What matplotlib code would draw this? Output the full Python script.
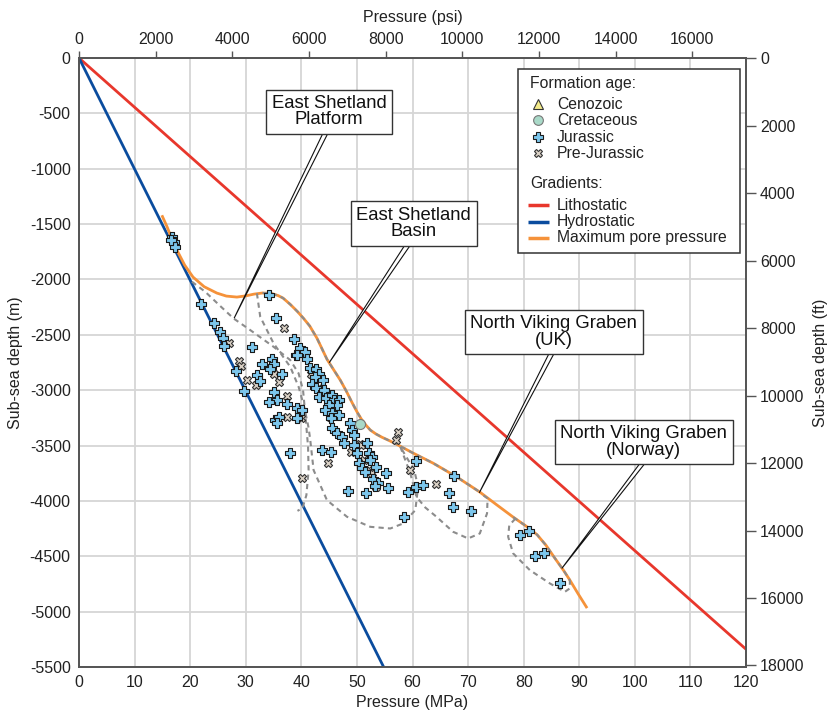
import matplotlib
matplotlib.use("Agg")
import matplotlib.pyplot as plt
import numpy as np
from matplotlib.patches import Rectangle, Polygon

plt.rcParams['font.family'] = ['Liberation Sans', 'DejaVu Sans']

# gradient lines (pressure MPa, depth m)
litho_p = [0, 120]
litho_d = [0, -5340]
hydro_p = [0, 54.8]
hydro_d = [0, -5500]

# maximum pore pressure curve
maxpp_p = [14.9, 15.8, 16.6, 17.6, 19.0, 20.5, 22.5, 24.8, 26.5, 28.4, 30.0, 31.5,
           33.0, 34.5, 35.8, 36.7, 38.0, 39.3, 40.4, 41.5, 42.8, 43.7, 44.6, 45.8,
           47.0, 48.1, 49.1, 50.0, 50.8, 51.6, 52.4, 53.4, 54.5, 55.8, 57.2, 60.1,
           63.7, 68.0, 72.1, 75.0, 78.1, 80.5, 82.4, 84.0, 85.5, 87.2, 88.3, 89.8, 91.4]
maxpp_d = [-1420, -1520, -1620, -1734, -1870, -1978, -2065, -2123, -2150, -2159, -2148, -2132,
           -2122, -2125, -2145, -2168, -2225, -2290, -2352, -2420, -2530, -2625, -2720, -2815,
           -2909, -3010, -3110, -3195, -3262, -3315, -3360, -3395, -3425, -3455, -3490, -3568,
           -3659, -3785, -3920, -4030, -4146, -4230, -4305, -4400, -4510, -4630, -4715, -4840, -4968]

# dashed outlines of the field groups
platform_p = [20.3, 22.7, 25.3, 27.8, 30.8, 35.0, 38.0, 39.5, 40.3, 40.8, 41.2, 41.3, 40.9, 40.2, 39.3]
platform_d = [-2020, -2111, -2235, -2352, -2457, -2608, -2728, -2848, -3000, -3270, -3511, -3722, -3948, -4065, -4090]

basin_p = [32.0, 32.6, 35.0, 38.0, 39.5, 40.5, 41.3, 41.6, 42.2, 44.6, 48.2, 52.4, 56.0, 58.3, 60.5, 61.0, 60.3, 57.8]
basin_d = [-2125, -2337, -2577, -2789, -2969, -3150, -3340, -3451, -3722, -3993, -4143, -4234, -4249, -4204, -4083, -3873, -3722, -3511]

uk_p = [57.8, 59.6, 60.7, 62.3, 64.3, 67.3, 70.0, 72.1, 73.4, 73.5, 72.7]
uk_d = [-3511, -3752, -3963, -4060, -4143, -4279, -4339, -4294, -4113, -3977, -3948]

norway_p = [78.5, 77.4, 77.2, 78.1, 81.1, 84.7, 87.4, 88.3, 88.3]
norway_d = [-4160, -4220, -4324, -4474, -4625, -4745, -4821, -4790, -4715]

# wells by formation age (pressure MPa, depth m)
jurassic_p = [16.7, 17.0, 17.3, 16.5, 21.95, 34.2, 35.4, 24.3, 25.4, 25.9, 26.1, 38.6, 39.0,
              31.2, 28.2, 32.9, 34.7, 35.1, 34.4, 36.6, 32.0, 32.6, 29.7, 35.1, 35.6, 34.1,
              37.5, 35.3, 36.0, 35.6, 39.3, 39.3, 39.8, 40.7, 39.2, 41.1, 41.6, 42.6, 43.2,
              42.5, 43.8, 42.0, 42.6, 44.0, 43.1, 44.4, 45.5, 45.8, 46.8, 46.4, 44.9, 44.3,
              45.5, 46.7, 45.3, 40.1, 48.8, 49.1, 49.4, 45.5, 46.4, 47.3, 51.8, 49.4, 47.6,
              43.7, 45.3, 50.0, 52.1, 52.7, 52.4, 50.3, 50.9, 51.5, 53.4, 55.2, 52.8, 53.8,
              55.5, 53.3, 48.3, 51.6, 59.1, 60.6, 61.9, 60.6, 58.4, 38.0, 67.5, 66.5, 67.2,
              70.5, 79.3, 81.0, 82.0, 83.7, 86.5]
jurassic_d = [-1614, -1659, -1705, -1640, -2222, -2138, -2352, -2397, -2472, -2532, -2602, -2541, -2683,
              -2614, -2825, -2767, -2722, -2767, -2812, -2857, -2864, -2918, -3008, -3014, -3089, -3105,
              -3126, -3270, -3246, -3300, -3159, -3255, -2623, -2653, -2683, -2722, -2803, -2812, -2855,
              -2884, -2909, -2945, -2984, -2999, -3059, -3074, -3044, -3089, -3089, -3135, -3135, -3180,
              -3204, -3225, -3255, -3180, -3294, -3360, -3405, -3345, -3390, -3421, -3481, -3496, -3481,
              -3541, -3562, -3571, -3571, -3607, -3631, -3661, -3706, -3737, -3697, -3746, -3806, -3842,
              -3887, -3866, -3908, -3932, -3917, -3872, -3857, -3638, -4149, -3568, -3776, -3932, -4059,
              -4089, -4309, -4270, -4499, -4469, -4745]

prejur_p = [36.9, 27.0, 28.8, 29.1, 31.8, 35.1, 36.0, 30.2, 37.4, 37.5, 41.7, 43.2, 45.2, 39.9,
            50.6, 57.3, 57.0, 50.7, 48.9, 51.2, 52.1, 52.7, 53.4, 59.6, 44.8, 40.2, 64.2]
prejur_d = [-2442, -2578, -2735, -2780, -2954, -2857, -2924, -2909, -3051, -3240, -2857, -2984, -3240, -3255,
            -3487, -3375, -3451, -3496, -3562, -3631, -3722, -3752, -3872, -3722, -3661, -3797, -3848]

cret_p = [50.6]
cret_d = [-3306]

labels = ['East Shetland\nPlatform', 'East Shetland\nBasin', 'North Viking Graben\n(UK)',
          'North Viking Graben\n(Norway)']
label_xy = [(45.0, -485), (60.2, -1493), (85.4, -2475), (101.6, -3469)]
leader_base = [(43.9, 44.8, -677), (58.7, 59.7, -1683), (84.5, 85.4, -2674), (100.8, 101.7, -3668)]
leader_tip = [(27.9, -2350), (45.0, -2752), (72.0, -3927), (86.85, -4610)]

RED = '#e8372c'
BLUE = '#0a4c9e'
ORANGE = '#f5923a'
GRID = '#d6d6d6'
DASH = '#8c8c8c'
TXT = '#222222'

fig = plt.figure(figsize=(8.32, 7.12), dpi=100)
ax = fig.add_axes([0.0950, 0.0632, 0.8017, 0.8553])
ax.set_xlim(0, 120)
ax.set_ylim(-5500, 0)

xt = np.arange(0, 121, 10)
yt = np.arange(-5500, 1, 500)
ax.set_xticks(xt, labels=[str(v) for v in xt])
ax.set_yticks(yt, labels=[str(v) for v in yt])
ax.tick_params(length=0, pad=6, labelsize=11.5, labelcolor=TXT)
ax.grid(True, color=GRID, lw=1.3)
ax.set_axisbelow(True)
for s in ax.spines.values():
    s.set_color('#555555')
    s.set_linewidth(1.1)

ax.set_xlabel('Pressure (MPa)', fontsize=11.5, color=TXT, labelpad=3)
ax.set_ylabel('Sub-sea depth (m)', fontsize=11.5, color=TXT, labelpad=5)

# gradients
ax.plot(litho_p, litho_d, color=RED, lw=2.0, zorder=3)
ax.plot(hydro_p, hydro_d, color=BLUE, lw=2.0, zorder=3)
ax.plot(maxpp_p, maxpp_d, color=ORANGE, lw=2.0, zorder=3, solid_capstyle='butt')

# dashed outlines, partly running along the pore pressure curve
mp = np.array(maxpp_p)
md = np.array(maxpp_d)
dash_kw = dict(color=DASH, lw=1.5, ls=(0, (2.5, 2)), zorder=4)
on1 = (mp >= 32.0) & (mp <= 72.7)
on2 = (mp >= 78.1) & (mp <= 88.3)
ax.plot(mp[on1], md[on1], **dash_kw)
ax.plot(mp[on2], md[on2], **dash_kw)
ax.plot(platform_p, platform_d, **dash_kw)
ax.plot(basin_p, basin_d, **dash_kw)
ax.plot(uk_p, uk_d, **dash_kw)
ax.plot(norway_p, norway_d, **dash_kw)

# wells
ax.scatter(prejur_p, prejur_d, marker='X', s=34, c='#d9d0c4', edgecolors='#333333', linewidths=0.8, zorder=5)
ax.scatter(jurassic_p, jurassic_d, marker='P', s=52, c='#7cc6ec', edgecolors='#1a1a1a', linewidths=0.8, zorder=6)
ax.scatter(cret_p, cret_d, marker='o', s=52, c='#a9d9c8', edgecolors='#777777', linewidths=0.8, zorder=6)

# callouts
for text, (tx, ty), (bx0, bx1, by), (px, py) in zip(labels, label_xy, leader_base, leader_tip):
    ax.add_patch(Polygon([(bx0, by), (bx1, by), (px, py)], closed=True, facecolor='white',
                         edgecolor='#111111', lw=0.8, zorder=7))
    ax.text(tx, ty, text, ha='center', va='center', fontsize=13.3, color='#111111', linespacing=0.95,
            zorder=8, bbox=dict(boxstyle='square,pad=0.3', fc='white', ec='#333333', lw=1.0))

# legend
ta = ax.transAxes
ax.add_patch(Rectangle((0.6586, 0.6793), 0.3324, 0.302, transform=ta, fc='white', ec='#333333', lw=1.1, zorder=9))
fs = 11.3
ax.text(0.676, 0.9584, 'Formation age:', transform=ta, fontsize=fs, va='center', color=TXT, zorder=10)
ax.text(0.676, 0.7943, 'Gradients:', transform=ta, fontsize=fs, va='center', color=TXT, zorder=10)
rows = [(0.9245, 'Cenozoic', dict(marker='^', ms=7, mfc='#f3ea8a', mec='#333333')),
        (0.8975, 'Cretaceous', dict(marker='o', ms=7, mfc='#a9d9c8', mec='#777777')),
        (0.8703, 'Jurassic', dict(marker='P', ms=7, mfc='#7cc6ec', mec='#1a1a1a')),
        (0.8440, 'Pre-Jurassic', dict(marker='X', ms=6, mfc='#d9d0c4', mec='#333333'))]
for yy, name, mk in rows:
    ax.plot([0.6886], [yy], transform=ta, ls='none', mew=0.8, zorder=10, clip_on=False, **mk)
    ax.text(0.7162, yy, name, transform=ta, fontsize=fs, va='center', color=TXT, zorder=10)
for yy, name, col in [(0.7586, 'Lithostatic', RED), (0.7312, 'Hydrostatic', BLUE),
                      (0.7049, 'Maximum pore pressure', ORANGE)]:
    ax.plot([0.6736, 0.7046], [yy, yy], transform=ta, color=col, lw=2.5, zorder=10, solid_capstyle='butt')
    ax.text(0.7162, yy, name, transform=ta, fontsize=fs, va='center', color=TXT, zorder=10)

# psi on top
axt = ax.twiny()
axt.set_xlim(0, 120 * 145.0377)
pt = np.arange(0, 16001, 2000)
axt.set_xticks(pt, labels=[str(v) for v in pt])
axt.tick_params(direction='out', length=5, width=1.0, color='#555555', pad=3, labelsize=11.5, labelcolor=TXT)
axt.set_xlabel('Pressure (psi)', fontsize=11.5, color=TXT, labelpad=7)

# feet on the right
axr = ax.twinx()
axr.set_ylim(5500 / 0.3048, 0)
ft = np.arange(0, 18001, 2000)
axr.set_yticks(ft, labels=[str(v) for v in ft])
axr.tick_params(direction='out', length=7, width=1.0, color='#555555', pad=3, labelsize=11.5, labelcolor=TXT)
axr.set_ylabel('Sub-sea depth (ft)', fontsize=11.5, color=TXT, labelpad=6)
for a in (axt, axr):
    for s in a.spines.values():
        s.set_color('#555555')
        s.set_linewidth(1.1)

fig.savefig('out.png', dpi=100)
